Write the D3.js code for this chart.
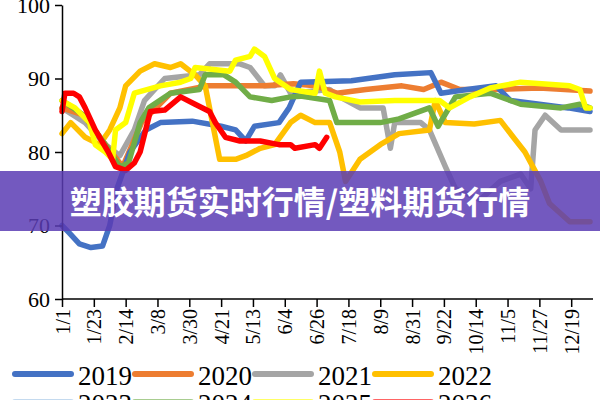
<!DOCTYPE html>
<html><head><meta charset="utf-8">
<script src="https://cdn.jsdelivr.net/npm/d3@7"></script>
<style>body{margin:0;background:#fff}svg{display:block}</style>
</head><body><svg></svg>
<script>
// day-of-year, value
var years = ["2019","2020","2021","2022","2023","2024","2025","2026"]
var colors = ["#4472c4","#ed7d31","#a5a5a5","#ffc000","#9dc3e6","#70ad47","#ffff00","#ff0000"]
var tickDays = [0,22,44,66,88,110,132,154,176,198,220,242,264,286,308,330,352]
var tickLabels = ["1/1","1/23","2/14","3/8","3/30","4/21","5/13","6/4","6/26","7/18","8/9","8/31","9/22","10/14","11/5","11/27","12/19"]
var yTicks = [60,70,80,90,100]

var s2019 = [[0,70],[5,69],[12,67.5],[20,67],[28,67.2],[33,70],[38,75],[47,80],[58,83],[68,84],[90,84.2],[110,83.5],[120,83],[127,81.5],[133,83.5],[150,84],[157,86],[165,89.5],[200,89.7],[230,90.5],[255,90.8],[262,88],[280,88.5],[300,89],[310,87],[330,86.5],[350,86],[365,85.5]]
var s2020 = [[0,86],[15,85],[30,81],[42,78],[55,84],[75,88],[100,89],[140,89],[160,89.3],[175,89],[190,88],[210,88.5],[235,89],[250,88.5],[262,89.5],[275,88.5],[300,88.5],[330,88.7],[365,88.3]]
var s2021 = [[0,86],[16,84],[30,81],[40,79.5],[50,83],[57,87],[71,90],[95,90.5],[102,92],[123,92],[130,91.5],[140,89],[147,89],[151,90.5],[158,88],[185,88.5],[192,87.5],[206,86],[222,86],[227,80.5],[230,84],[248,84],[254,83],[265,78],[272,75],[289,73.5],[303,76],[317,77],[324,75],[327,83],[334,85],[345,83],[365,83]]
var s2022 = [[0,82.5],[6,84],[16,82],[26,81],[33,83],[40,86],[44,89],[54,91],[64,92],[75,91.5],[82,92],[92,90.5],[99,89],[104,84],[109,79],[120,79],[127,79.5],[137,80.5],[147,81],[158,84],[165,85],[175,84],[185,84],[192,80],[196,76],[206,79],[220,81],[233,82.5],[254,83],[258,87],[265,84],[285,83.8],[303,84.3],[312,82],[320,80],[331,76],[337,73],[351,70.5],[365,70.5]]
var s2023 = []
var s2024 = [[0,87],[15,85],[30,81],[40,78],[46,78.5],[54,84],[60,86],[75,88],[95,88.5],[99,90.5],[112,90.5],[120,89.5],[130,87.5],[145,87],[158,87.5],[165,87.6],[185,87],[190,84],[220,84],[233,84.5],[254,86],[260,83.5],[272,87.5],[296,88],[317,86.5],[345,86],[358,86.5],[365,86]]
var s2025 = [[0,87],[9,86],[19,84],[23,81],[30,80],[35,79],[37,83],[44,84],[50,88],[68,89],[82,89.5],[89,90],[92,91.5],[116,91],[120,92.5],[130,93],[133,94],[140,93],[147,90],[158,88.5],[175,88],[178,91],[182,88],[189,87.5],[206,86.8],[230,87],[261,87],[268,86],[282,87.5],[296,88.7],[317,89.5],[351,89],[358,88.5],[362,86],[365,86]]
var s2026 = [[0,85.5],[2,88],[8,88],[12,87.5],[16,86],[23,83],[32,80],[37,78],[44,77.5],[50,78.5],[54,80],[61,85.5],[71,85.7],[82,87.5],[92,86.5],[102,85.5],[106,84],[113,82],[123,81.5],[137,81.5],[150,81],[158,81],[161,80.5],[175,81],[178,80.5],[183,82]]
var series = [s2019,s2020,s2021,s2022,s2023,s2024,s2025,s2026]
var drawOrder = [2,1,0,3,5,6,7]

var serif = "'Liberation Serif', 'DejaVu Serif', serif"

var svg = d3.select("svg").attr("width",600).attr("height",400)

var xScale = d3.scaleLinear().domain([0,365]).range([62,590])
var yScale = d3.scaleLinear().domain([60,100]).range([299,5])

var line = d3.line()
    .x(function(d){return xScale(d[0])})
    .y(function(d){return yScale(d[1])})

drawOrder.forEach(function(i){
    svg.append("path")
    .datum(series[i])
    .attr("d",line)
    .attr("fill","none")
    .attr("stroke",colors[i])
    .attr("stroke-width",5.5)
    .attr("stroke-linejoin","round")
    .attr("stroke-linecap","round")
})

var yAxis = d3.axisLeft(yScale).tickValues(yTicks).tickSize(7).tickSizeOuter(0)
svg.append("g")
    .attr("transform","translate(62,0)")
    .call(yAxis)
    .call(function(g){
        g.attr("font-family",serif)
        g.select(".domain").attr("stroke","#000").attr("stroke-width",1.5)
        g.selectAll("line").attr("stroke-width",1.5)
        g.selectAll("text").style("font-family",serif).attr("font-size",22).attr("fill","#000").attr("dx",-2)
    })

var xAxis = d3.axisBottom(xScale).tickValues(tickDays)
    .tickFormat(function(d,i){return tickLabels[i]}).tickSize(8).tickSizeOuter(0)
svg.append("g")
    .attr("transform","translate(0,299)")
    .call(xAxis)
    .call(function(g){
        g.attr("font-family",serif)
        g.select(".domain").attr("d","M62,0H593").attr("stroke-width",1.5)
        g.selectAll("line").attr("stroke-width",1.5)
        g.selectAll("text").style("font-family",serif)
        .attr("font-size",20).attr("fill","#000")
        .attr("transform","rotate(-90)")
        .attr("text-anchor","end")
        .attr("x",-10).attr("y",0).attr("dy","0.35em")
    })

// legend
var legend = svg.append("g")
years.forEach(function(y,i){
    var col = i%4, row = Math.floor(i/4)
    var gx = 13 + col*120, gy = 374 + row*28
    legend.append("line")
    .attr("x1",gx+2).attr("x2",gx+58).attr("y1",gy).attr("y2",gy)
    .attr("stroke",colors[i]).attr("stroke-width",6).attr("stroke-linecap","round")
    .attr("opacity",row==1?0.6:1)
    legend.append("text").style("font-family",serif)
    .attr("x",gx+65).attr("y",gy+11)
    .attr("font-size",27)
    .text(y)
})

// banner
svg.append("rect").attr("x",0).attr("y",171).attr("width",600).attr("height",60)
    .attr("fill","#5a3cb4").attr("opacity",0.85)
svg.append("text").attr("x",300).attr("y",214)
    .attr("text-anchor","middle")
    .attr("font-family","Noto Sans CJK SC").attr("font-weight","bold")
    .attr("font-size",32).attr("fill","#fff")
    .text("塑胶期货实时行情/塑料期货行情")
</script></body></html>
